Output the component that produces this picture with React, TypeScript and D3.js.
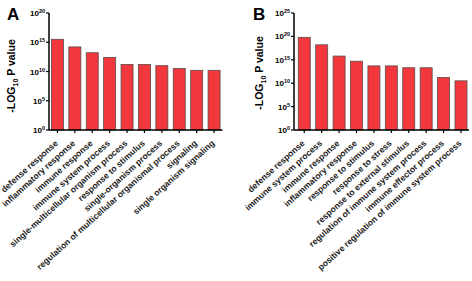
import React from "react";
import * as d3 from "d3";

const categoriesA = [
  "defense response",
  "inflammatory response",
  "immune response",
  "immune system process",
  "single-multicellular organism process",
  "response to stimulus",
  "single-organism process",
  "regulation of multicellular organismal process",
  "signaling",
  "single organism signaling",
];
const valuesA = [3.2e15, 1.6e14, 1.6e13, 2.5e12, 1.6e11, 1.6e11, 1.0e11, 3.2e10, 1.6e10, 1.6e10];
const ticksA = [1, 1e5, 1e10, 1e15, 1e20];
const tickExpA = ["0", "5", "10", "15", "20"];

const categoriesB = [
  "defense response",
  "immune system process",
  "immune response",
  "inflammatory response",
  "response to stimulus",
  "response to stress",
  "response to external stimulus",
  "regulation of immune system process",
  "immune effector process",
  "positive regulation of immune system process",
];
const valuesB = [6.3e19, 1.6e18, 6.3e15, 5e14, 5e13, 5e13, 2e13, 2e13, 1.6e11, 3.2e10];
const ticksB = [1, 1e5, 1e10, 1e15, 1e20, 1e25];
const tickExpB = ["0", "5", "10", "15", "20", "25"];

const FONT = "'Liberation Sans', Arial, sans-serif";
const BAR_FILL = "#F2383D";
const BAR_STROKE = "#5a4a4a";

type PanelProps = {
  letter: string;
  letterX: number;
  categories: string[];
  values: number[];
  ticks: number[];
  tickExp: string[];
  axisX: number;
  rangeEnd: number;
  padOuter: number;
  align: number;
  titleX: number;
  titleY: number;
};

function Panel(p: PanelProps) {
  const yTop = 13;
  const yBottom = 130;
  const x = d3
    .scaleBand<string>()
    .domain(p.categories)
    .range([p.axisX, p.rangeEnd])
    .paddingInner(0.31)
    .paddingOuter(p.padOuter)
    .align(p.align);
  const y = d3
    .scaleLog()
    .domain([p.ticks[0], p.ticks[p.ticks.length - 1]])
    .range([yBottom, yTop]);
  return (
    <g>
      <text x={p.letterX} y={20} fontFamily={FONT} fontWeight="bold" fontSize={17} fill="#000">
        {p.letter}
      </text>
      <text
        transform={`translate(${p.titleX},${p.titleY}) rotate(-90)`}
        textAnchor="middle"
        fontFamily={FONT}
        fontWeight="bold"
        fontSize={10.5}
        fill="#000"
      >
        -LOG
        <tspan fontSize={7} dy={2.5}>10</tspan>
        <tspan dy={-2.5}> P value</tspan>
      </text>
      {p.categories.map((c, i) => {
        const v = p.values[i];
        const top = y(v);
        return (
          <rect
            key={c}
            x={x(c)}
            y={top}
            width={x.bandwidth()}
            height={yBottom - top}
            fill={BAR_FILL}
            stroke={BAR_STROKE}
            strokeWidth={0.8}
          />
        );
      })}
      <line x1={p.axisX} x2={p.axisX} y1={yTop} y2={yBottom} stroke="#000" strokeWidth={1.5} />
      <line x1={p.axisX} x2={p.rangeEnd} y1={yBottom} y2={yBottom} stroke="#000" strokeWidth={1.5} />
      {p.ticks.map((t, i) => (
        <g key={t}>
          <line x1={p.axisX - 3} x2={p.axisX} y1={y(t)} y2={y(t)} stroke="#000" strokeWidth={1.2} />
          <text
            x={p.axisX - 4}
            y={y(t) + 3}
            textAnchor="end"
            fontFamily={FONT}
            fontWeight="bold"
            fontSize={8}
            fill="#000"
          >
            10
            <tspan fontSize={5.5} dy={-3}>{p.tickExp[i]}</tspan>
          </text>
        </g>
      ))}
      {p.categories.map((c) => {
        const cx = (x(c) as number) + x.bandwidth() / 2;
        return (
          <g key={c + "-lbl"}>
            <line x1={cx} x2={cx} y1={yBottom} y2={yBottom + 3} stroke="#000" strokeWidth={1.2} />
            <text
              transform={`translate(${cx + 1},${yBottom + 14}) rotate(-42)`}
              textAnchor="end"
              fontFamily={FONT}
              fontWeight="bold"
              fontSize={8.6}
              fill="#1a1a1a"
            >
              {c}
            </text>
          </g>
        );
      })}
    </g>
  );
}

export default function App() {
  return (
    <svg
      width={472}
      height={281}
      style={{ position: "absolute", left: 0, top: 0, background: "#fff" }}
    >
      <rect x={0} y={0} width={472} height={281} fill="#fff" />
      <Panel
        letter="A"
        letterX={7}
        categories={categoriesA}
        values={valuesA}
        ticks={ticksA}
        tickExp={tickExpA}
        axisX={49}
        rangeEnd={222.5}
        padOuter={0.14}
        align={0.5}
        titleX={15}
        titleY={76}
      />
      <Panel
        letter="B"
        letterX={253}
        categories={categoriesB}
        values={valuesB}
        ticks={ticksB}
        tickExp={tickExpB}
        axisX={294}
        rangeEnd={469}
        padOuter={0.18}
        align={0.68}
        titleX={263}
        titleY={73}
      />
    </svg>
  );
}
